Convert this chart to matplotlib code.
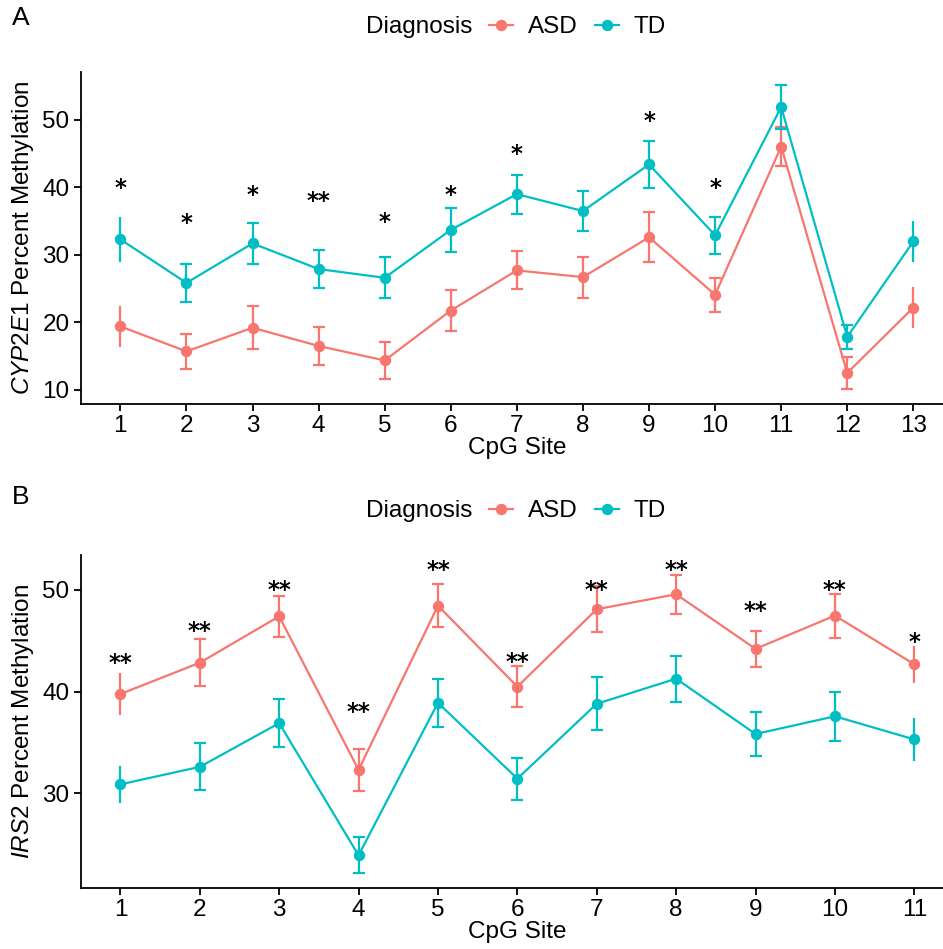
import matplotlib
matplotlib.use("Agg")
import matplotlib.pyplot as plt
from matplotlib.lines import Line2D
import numpy as np

plt.rcParams['font.family'] = ['Liberation Sans', 'DejaVu Sans']
plt.rcParams['mathtext.fontset'] = 'custom'
plt.rcParams['mathtext.it'] = 'Liberation Sans:italic'
plt.rcParams['mathtext.rm'] = 'Liberation Sans'

ASD_COLOR = '#F8766D'
TD_COLOR = '#00BFC4'

# Panel A: CYP2E1
sites_a = list(range(1, 14))
asd_a = [19.4, 15.7, 19.2, 16.5, 14.35, 21.75, 27.7, 26.7, 32.6, 24.1, 46.05, 12.5, 22.2]
asd_a_se = [3.0, 2.55, 3.15, 2.75, 2.8, 3.1, 2.8, 3.05, 3.7, 2.5, 2.95, 2.4, 3.0]
td_a = [32.3, 25.85, 31.7, 27.9, 26.6, 33.7, 39.0, 36.5, 43.4, 32.9, 51.9, 17.85, 32.0]
td_a_se = [3.3, 2.85, 3.05, 2.8, 3.05, 3.3, 2.9, 3.0, 3.45, 2.75, 3.2, 1.8, 3.0]
sig_a_sites = [1, 2, 3, 4, 5, 6, 7, 9, 10]
sig_a_y = [40.9, 35.8, 39.9, 39.0, 35.9, 39.9, 45.9, 50.8, 40.9]
sig_a_lab = ['*', '*', '*', '**', '*', '*', '*', '*', '*']
yticks_a = [10, 20, 30, 40, 50]

# Panel B: IRS2
sites_b = list(range(1, 12))
asd_b = [39.76, 42.84, 47.4, 32.3, 48.45, 40.48, 48.1, 49.57, 44.2, 47.47, 42.68]
asd_b_se = [2.05, 2.33, 2.0, 2.07, 2.12, 2.02, 2.25, 1.93, 1.78, 2.16, 1.8]
td_b = [30.88, 32.6, 36.9, 23.9, 38.9, 31.44, 38.8, 41.27, 35.83, 37.57, 35.3]
td_b_se = [1.85, 2.3, 2.36, 1.78, 2.38, 2.08, 2.6, 2.26, 2.13, 2.38, 2.1]
sig_b_sites = list(range(1, 12))
sig_b_y = [43.53, 46.65, 50.65, 38.68, 52.6, 43.6, 50.65, 52.6, 48.6, 50.65, 45.6]
sig_b_lab = ['**'] * 10 + ['*']
yticks_b = [30, 40, 50]

W, H = 943, 949
fig = plt.figure(figsize=(W / 100, H / 100), dpi=100)

FS = 17.5


def draw_panel(ax, sites, asd, asd_se, td, td_se, sig_sites, sig_y, sig_lab,
               yticks, ylim, ylabel):
    sites = np.array(sites)
    n = len(sites)
    for vals, se, col in [(asd, asd_se, ASD_COLOR), (td, td_se, TD_COLOR)]:
        vals = np.array(vals)
        se = np.array(se)
        inner = np.arange(1, n - 1)
        ends = np.array([0, n - 1])
        ax.errorbar(sites[inner], vals[inner], yerr=se[inner], fmt='none',
                    ecolor=col, elinewidth=1.6, capsize=4.5, capthick=1.6, zorder=2)
        ax.errorbar(sites[ends], vals[ends], yerr=se[ends], fmt='none',
                    ecolor=col, elinewidth=1.6, capsize=0, zorder=2)
        ax.plot(sites, vals, color=col, lw=1.6, marker='o', ms=7.2, zorder=3)
    for s, y, lab in zip(sig_sites, sig_y, sig_lab):
        ax.annotate(lab, (s, y), xytext=(0, -10), textcoords='offset points',
                    ha='center', va='baseline', fontsize=16.5, color='black',
                    family='DejaVu Sans', fontweight='bold')
    ax.set_ylim(*ylim)
    ax.set_xticks(sites)
    ax.set_yticks(yticks)
    for sp in ['top', 'right']:
        ax.spines[sp].set_visible(False)
    for sp in ['left', 'bottom']:
        ax.spines[sp].set_linewidth(1.3)
    ax.tick_params(axis='both', labelsize=FS, length=5, width=1.3, colors='black',
                   pad=3)
    ax.set_xlabel('CpG Site', fontsize=FS, labelpad=0)
    ax.set_ylabel(ylabel, fontsize=FS, labelpad=5)


# Panel A axes
axA = fig.add_axes([80.7 / W, 1 - 404 / H, (953 - 80.7) / W, (404 - 72) / H])
draw_panel(axA, sites_a, asd_a, asd_a_se, td_a, td_a_se, sig_a_sites, sig_a_y,
           sig_a_lab, yticks_a, (7.9, 57.1), r'$\it{CYP2E1}$ Percent Methylation')
axA.set_xlim(0.4, 13.6)

axB = fig.add_axes([80.7 / W, 1 - 888.3 / H, (954 - 80.7) / W, (888.3 - 555) / H])
draw_panel(axB, sites_b, asd_b, asd_b_se, td_b, td_b_se, sig_b_sites, sig_b_y,
           sig_b_lab, yticks_b, (20.66, 53.43), r'$\it{IRS2}$ Percent Methylation')
axB.set_xlim(0.5, 11.5)

# Legends
handles = [Line2D([], [], color=ASD_COLOR, lw=1.6, marker='o', ms=7.2),
           Line2D([], [], color=TD_COLOR, lw=1.6, marker='o', ms=7.2)]
for yc in [27, 511]:
    fig.text(366 / W, 1 - yc / H, 'Diagnosis', fontsize=FS, ha='left', va='center')
    fig.legend(handles, ['ASD', 'TD'], loc='center left',
               bbox_to_anchor=(489 / W, 1 - yc / H), ncol=2, frameon=False,
               fontsize=FS, handlelength=1.0, handletextpad=0.6,
               columnspacing=0.7, borderpad=0, borderaxespad=0)

fig.text(12 / W, 1 - 18 / H, 'A', fontsize=19, ha='left', va='center')
fig.text(12 / W, 1 - 497 / H, 'B', fontsize=19, ha='left', va='center')

fig.savefig('out.png', dpi=100)
